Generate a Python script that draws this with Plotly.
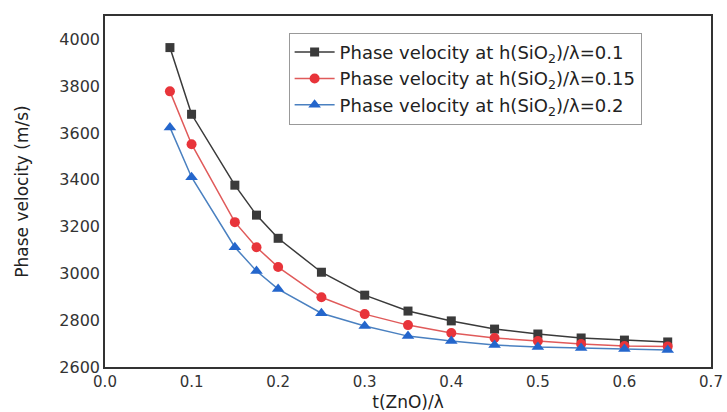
import plotly.graph_objects as go

x_vals = [0.075, 0.1, 0.15, 0.175, 0.2, 0.25, 0.3, 0.35, 0.4, 0.45, 0.5, 0.55, 0.6, 0.65]
v_h01 = [3965, 3680, 3377, 3249, 3150, 3005, 2907, 2839, 2797, 2762, 2741, 2724, 2715, 2707]
v_h015 = [3778, 3552, 3219, 3112, 3027, 2898, 2826, 2779, 2745, 2724, 2711, 2698, 2690, 2688]
v_h02 = [3624, 3411, 3112, 3010, 2933, 2830, 2775, 2732, 2711, 2694, 2685, 2681, 2677, 2673]
y_ticks = [2600, 2800, 3000, 3200, 3400, 3600, 3800, 4000]

names = [
    "Phase velocity at h(SiO<sub>2</sub>)/λ=0.1",
    "Phase velocity at h(SiO<sub>2</sub>)/λ=0.15",
    "Phase velocity at h(SiO<sub>2</sub>)/λ=0.2",
]

FONT = "DejaVu Sans, Arial, sans-serif"

fig = go.Figure()
fig.add_trace(go.Scatter(x=x_vals, y=v_h01, name=names[0], mode="lines+markers",
                         line=dict(color="#3a3a3a", width=1.5),
                         marker=dict(symbol="square", size=9, color="#3a3a3a")))
fig.add_trace(go.Scatter(x=x_vals, y=v_h015, name=names[1], mode="lines+markers",
                         line=dict(color="#e05a5a", width=1.5),
                         marker=dict(symbol="circle", size=10, color="#e8343a")))
fig.add_trace(go.Scatter(x=x_vals, y=v_h02, name=names[2], mode="lines+markers",
                         line=dict(color="#4a80c0", width=1.5),
                         marker=dict(symbol="triangle-up", size=11, color="#2466cc")))

fig.update_layout(
    width=727, height=412,
    margin=dict(l=105, r=16, t=16, b=45),
    paper_bgcolor="white", plot_bgcolor="white",
    font=dict(family=FONT, color="#333333"),
    legend=dict(x=0.303, y=0.952, xanchor="left", yanchor="top",
                bordercolor="#999999", borderwidth=1, bgcolor="white",
                font=dict(family=FONT, size=18, color="#222222"),
                tracegroupgap=0, itemwidth=40),
    showlegend=True,
)
fig.update_xaxes(range=[0, 0.7], dtick=0.1, tickformat=".1f", automargin=False,
                 showgrid=False, zeroline=False, showline=True, mirror=True,
                 linecolor="#333333", linewidth=1.5, ticks="",
                 tickfont=dict(family=FONT, size=15, color="#333333"),
                 title=dict(text="t(ZnO)/λ", font=dict(family=FONT, size=17, color="#222222"), standoff=6))
fig.update_yaxes(range=[2600, 4100], tickvals=y_ticks, automargin=False,
                 showgrid=False, zeroline=False, showline=True, mirror=True,
                 linecolor="#333333", linewidth=1.5, ticks="",
                 tickfont=dict(family=FONT, size=16, color="#333333"),
                 title=dict(text="Phase velocity (m/s)", font=dict(family=FONT, size=17, color="#222222"), standoff=26))

fig.write_html("out.html", config={"displayModeBar": False},
               post_script="document.body.style.margin='0';document.body.style.overflow='hidden';")
